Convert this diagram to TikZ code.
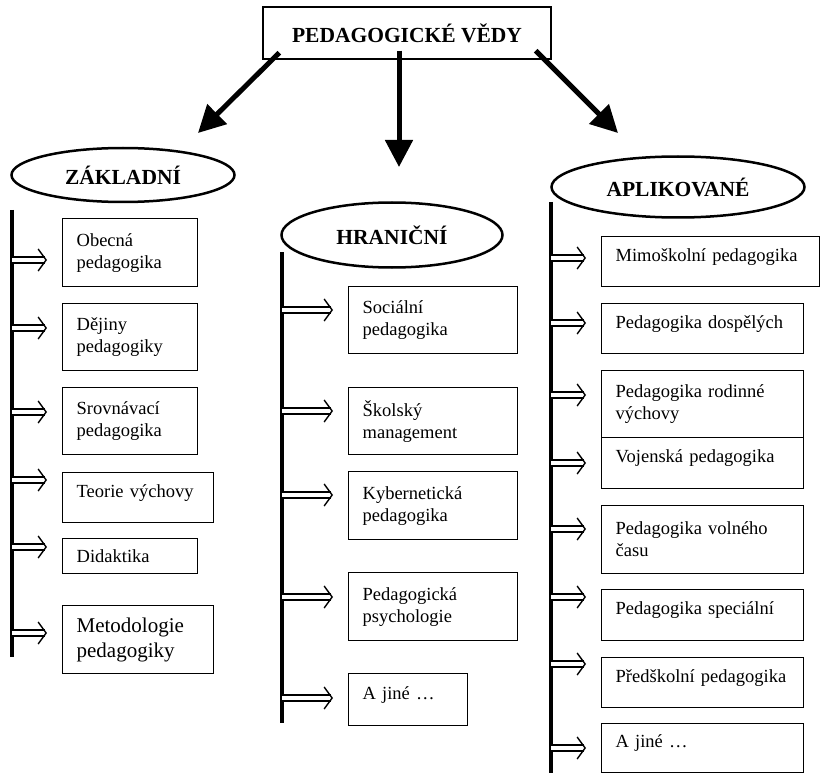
\documentclass[tikz,border=0pt]{standalone}
\usepackage{fontspec}
\setmainfont{Liberation Serif}
\usetikzlibrary{arrows.meta,shapes.geometric}

\tikzset{
  pbox/.style={draw, line width=1.3pt, anchor=north west, inner xsep=14pt, inner ysep=0pt, align=left, font=\fontsize{18.5}{22}\selectfont},
  oneline/.style={text depth=14pt},
  group/.style={draw, ellipse, line width=2.5pt, inner sep=0pt, font=\fontsize{21.5}{26}\selectfont\bfseries},
  bigarrow/.style={line width=5pt, -{Triangle[width=27pt,length=27pt]}},
  darrow/.style={double, double distance=4.5pt, line width=1.4pt, -{Straight Barb[length=8pt,width=22pt]}, shorten >=15pt},
  vline/.style={line width=4pt}
}

\begin{document}
\begin{tikzpicture}[x=1pt, y=-1pt]
        \useasboundingbox (0,0) rectangle (820,773);

        \node[draw, line width=1.3pt, minimum width=288pt, minimum height=52pt, font=\fontsize{21.5}{26}\selectfont\bfseries] (ped) at (407,33) {PEDAGOGICKÉ VĚDY};

        \node[group, minimum width=223pt, minimum height=54pt] (zak) at (123,175) {ZÁKLADNÍ};
        \node[group, minimum width=221pt, minimum height=65pt] (hra) at (392,235) {HRANIČNÍ};
        \node[group, minimum width=253pt, minimum height=61pt] (apl) at (678,187) {APLIKOVANÉ};

        \coordinate (zend) at (198,133);
        \coordinate (hend) at (399,167);
        \coordinate (aend) at (618,133);
        \draw[bigarrow] ([xshift=17pt,yshift=7pt]ped.south west) -- (zend);
        \draw[bigarrow] ([xshift=-8pt,yshift=9pt]ped.south) -- (hend);
        \draw[bigarrow] ([xshift=-16pt,yshift=9pt]ped.south east) -- (aend);

        \node[pbox, text width=107pt, minimum height=68pt] (z1) at (62,218) {Obecná\\pedagogika};
        \node[pbox, text width=107pt, minimum height=67pt] (z2) at (62,303) {Dějiny\\pedagogiky};
        \node[pbox, text width=107pt, minimum height=67pt] (z3) at (62,387) {Srovnávací\\pedagogika};
        \node[pbox, oneline, text width=123pt, minimum height=50pt] (z4) at (62,472) {Teorie výchovy};
        \node[pbox, text width=107pt, minimum height=35pt] (z5) at (62,538) {Didaktika};
        \node[pbox, text width=123pt, minimum height=68pt, font=\fontsize{21}{25}\selectfont] (z6) at (62,605) {Metodologie\\pedagogiky};

        \node[pbox, text width=141pt, minimum height=67pt] (h1) at (348,286) {Sociální\\pedagogika};
        \node[pbox, text width=141pt, minimum height=67pt] (h2) at (348,387) {Školský\\management};
        \node[pbox, text width=141pt, minimum height=68pt] (h3) at (348,471) {Kybernetická\\pedagogika};
        \node[pbox, text width=141pt, minimum height=68pt] (h4) at (348,572) {Pedagogická\\psychologie};
        \node[pbox, oneline, text width=91pt, minimum height=52pt] (h5) at (348,673) {A jiné …};

        \node[pbox, oneline, text width=190pt, minimum height=50pt] (a1) at (601,236) {Mimoškolní pedagogika};
        \node[pbox, oneline, text width=174pt, minimum height=50pt] (a2) at (601,303) {Pedagogika dospělých};
        \node[pbox, text width=174pt, minimum height=67pt] (a3) at (601,370) {Pedagogika rodinné\\výchovy};
        \node[pbox, oneline, text width=174pt, minimum height=51pt] (a4) at (601,437) {Vojenská pedagogika};
        \node[pbox, text width=174pt, minimum height=68pt] (a5) at (601,505) {Pedagogika volného\\času};
        \node[pbox, oneline, text width=174pt, minimum height=51pt] (a6) at (601,589) {Pedagogika speciální};
        \node[pbox, oneline, text width=174pt, minimum height=50pt] (a7) at (601,657) {Předškolní pedagogika};
        \node[pbox, oneline, text width=174pt, minimum height=49pt] (a8) at (601,723) {A jiné …};

        \coordinate (zl) at (12,210);
        \coordinate (zle) at (12,657);
        \coordinate (hl) at (282,252);
        \coordinate (hle) at (282,723);
        \coordinate (al) at (551,202);
        \coordinate (ale) at (551,773);
        \draw[vline] (zl) -- (zle);
        \draw[vline] (hl) -- (hle);
        \draw[vline] (al) -- (ale);

        \draw[darrow] (zl |- 0,260) -- (z1.west |- 0,260);
        \draw[darrow] (zl |- 0,328) -- (z2.west |- 0,328);
        \draw[darrow] (zl |- 0,412) -- (z3.west |- 0,412);
        \draw[darrow] (zl |- 0,480) -- (z4.west |- 0,480);
        \draw[darrow] (zl |- 0,547) -- (z5.west |- 0,547);
        \draw[darrow] (zl |- 0,633) -- (z6.west |- 0,633);

        \draw[darrow] (hl |- 0,310) -- (h1.west |- 0,310);
        \draw[darrow] (hl |- 0,411) -- (h2.west |- 0,411);
        \draw[darrow] (hl |- 0,495) -- (h3.west |- 0,495);
        \draw[darrow] (hl |- 0,597) -- (h4.west |- 0,597);
        \draw[darrow] (hl |- 0,698) -- (h5.west |- 0,698);

        \draw[darrow] (al |- 0,258) -- (a1.west |- 0,258);
        \draw[darrow] (al |- 0,323) -- (a2.west |- 0,323);
        \draw[darrow] (al |- 0,395) -- (a3.west |- 0,395);
        \draw[darrow] (al |- 0,463) -- (a4.west |- 0,463);
        \draw[darrow] (al |- 0,529) -- (a5.west |- 0,529);
        \draw[darrow] (al |- 0,597) -- (a6.west |- 0,597);
        \draw[darrow] (al |- 0,664) -- (a7.west |- 0,664);
        \draw[darrow] (al |- 0,748) -- (a8.west |- 0,748);
    \end{tikzpicture}
\end{document}
